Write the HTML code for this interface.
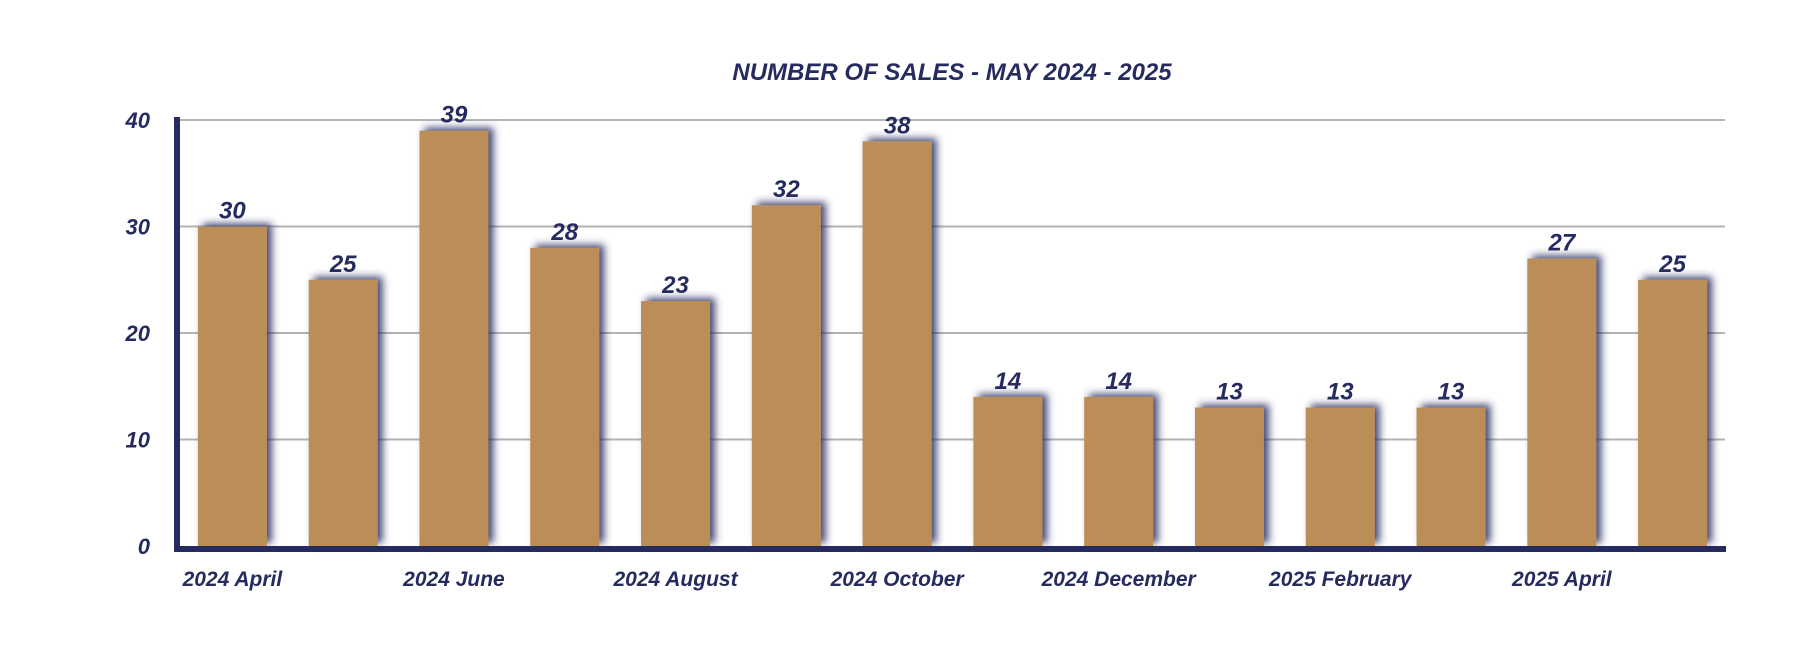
<!DOCTYPE html>
<html><head><meta charset="utf-8"><style>
body{margin:0;background:#fff;width:1794px;height:640px;overflow:hidden;font-family:"Liberation Sans",sans-serif}
svg text{font-family:"Liberation Sans",sans-serif;font-weight:bold;font-style:italic;fill:#262b5f}
</style></head><body>
<svg width="1794" height="640">
<defs><filter id="sh" x="-30%" y="-30%" width="160%" height="160%"><feDropShadow dx="5" dy="-3" stdDeviation="4" flood-color="#262b5f" flood-opacity="0.85"/></filter></defs>
<text x="952" y="80" text-anchor="middle" font-size="24">NUMBER OF SALES - MAY 2024 - 2025</text>
<g id="grid"></g><g id="bars"></g><g id="labels"></g>
<rect x="174" y="117" width="6" height="435" fill="#262b5f"/>
<rect x="174" y="546" width="1552" height="6" fill="#262b5f"/>
</svg>
<script>
const categories=["2024 April","2024 May","2024 June","2024 July","2024 August","2024 September","2024 October","2024 November","2024 December","2025 January","2025 February","2025 March","2025 April","2025 May"];
const values=[30,25,39,28,23,32,38,14,14,13,13,13,27,25];
const yTicks=[0,10,20,30,40];
const NS="http://www.w3.org/2000/svg";
const x0=174,x1=1725,y0=546,yTop=120,yMax=40;
const slot=(x1-x0)/categories.length,bw=69;
const y=v=>y0-(v/yMax)*(y0-yTop);
const cx=i=>x0+slot*(i+0.5)+3;
function mk(t,a,p){const e=document.createElementNS(NS,t);for(const k in a)e.setAttribute(k,a[k]);p.appendChild(e);return e;}
const grid=document.getElementById('grid'),bars=document.getElementById('bars'),labels=document.getElementById('labels');
yTicks.forEach(t=>{
 if(t>0){const l=mk('line',{x1:x0,x2:x1,y1:y(t),y2:y(t),stroke:'#b3b3b3','stroke-width':2},grid);
 
 }
 const tx=mk('text',{x:150,y:y(t)+8,'text-anchor':'end','font-size':22},labels);
 tx.textContent=t;
 
 
});
values.forEach((v,i)=>{
 const r=mk('rect',{x:cx(i)-bw/2,y:y(v),width:bw,height:y0-y(v),fill:'#bb8e58',filter:'url(#sh)'},bars);
 
 
 const t=mk('text',{x:cx(i),y:y(v)-8,'text-anchor':'middle','font-size':24},labels);
 t.textContent=v;
 
 
 if(i%2===0){const c=mk('text',{x:cx(i),y:586,'text-anchor':'middle','font-size':21},labels);
 c.textContent=categories[i];
 
 }
});
</script>
</body></html>
